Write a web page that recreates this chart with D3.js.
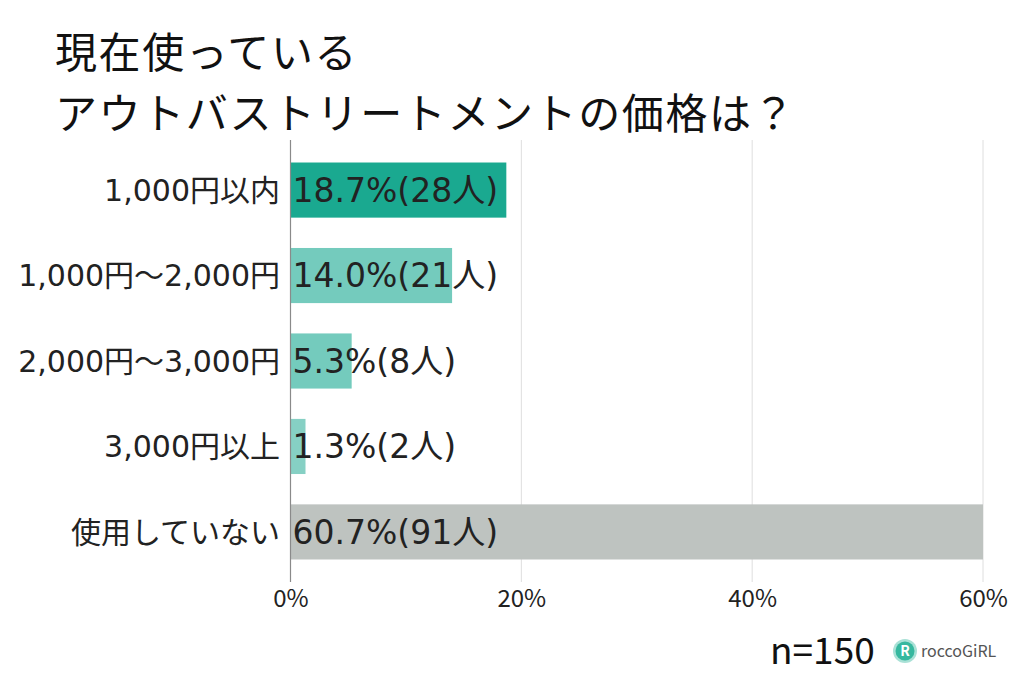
<!DOCTYPE html>
<html><head><meta charset="utf-8">
<script src="https://cdn.jsdelivr.net/npm/d3@7"></script>
<style>body{margin:0;background:#fff;} svg{display:block;}</style>
</head><body>
<svg id="c" width="1024" height="683"></svg>
<script>
const categories = ["1,000円以内","1,000円〜2,000円","2,000円〜3,000円","3,000円以上","使用していない"];
const percents = [18.7, 14.0, 5.3, 1.3, 60.7];
const counts = [28, 21, 8, 2, 91];
const barColors = ["#1aa990","#74cbbd","#74cbbd","#86d0c4","#bec3c0"];
const tickValues = [0, 20, 40, 60];
const titleLines = ["現在使っている","アウトバストリートメントの価格は？"];
const sampleNote = "n=150";

const font = "'Noto Sans CJK JP','Noto Sans',sans-serif";
const wideFont = "'DejaVu Sans','Noto Sans CJK JP',sans-serif";
const svg = d3.select("#c");
const x = d3.scaleLinear().domain([0,60]).range([290.5,983]).clamp(true);
const y = d3.scaleBand().domain(categories).range([142,580]).paddingInner(0.355).paddingOuter(0.24);

// gridlines
svg.append("g").selectAll("line").data(tickValues.slice(1)).join("line")
  .attr("x1",d=>x(d)).attr("x2",d=>x(d)).attr("y1",140).attr("y2",582)
  .attr("stroke","#dedede").attr("stroke-width",1);

// bars
svg.append("g").selectAll("rect").data(categories).join("rect")
  .attr("x",x(0)).attr("y",d=>y(d)).attr("height",y.bandwidth())
  .attr("width",(d,i)=>x(percents[i])-x(0)).attr("fill",(d,i)=>barColors[i]);

// zero axis line
svg.append("line").attr("x1",x(0)).attr("x2",x(0)).attr("y1",140).attr("y2",582)
  .attr("stroke","#8a8a8a").attr("stroke-width",1.2);

// category labels
svg.append("g").selectAll("text").data(categories).join("text")
  .attr("x",280).attr("y",d=>y(d)+y.bandwidth()/2).attr("dy","0.36em")
  .attr("text-anchor","end").attr("font-family",wideFont).attr("font-size",30)
  .attr("fill","#222").text(d=>d);

// value labels
svg.append("g").selectAll("text").data(categories).join("text")
  .attr("x",x(0)+2).attr("y",d=>y(d)+y.bandwidth()/2).attr("dy","0.36em")
  .attr("font-family",wideFont).attr("font-size",33).attr("fill","#222")
  .text((d,i)=>percents[i].toFixed(1)+"%("+counts[i]+"人)");

// x axis tick labels
const xAxis = d3.axisBottom(x).tickValues(tickValues).tickFormat(d=>d+"%").tickSize(0).tickPadding(0);
const ax = svg.append("g").attr("transform","translate(0,590)").call(xAxis);
ax.select(".domain").remove();
ax.selectAll("text").attr("font-family",font).attr("font-size",24).attr("fill","#222").attr("dy","0.71em");

// title
svg.append("g").selectAll("text").data(titleLines).join("text")
  .attr("x",55).attr("y",(d,i)=>68+i*61)
  .attr("font-family",font).attr("font-size",42).attr("letter-spacing",1.6)
  .attr("fill","#111").text(d=>d);

// n note
svg.append("text").attr("x",770).attr("y",664).attr("font-family",font)
  .attr("font-size",37).attr("fill","#111").text(sampleNote);

// logo
const lg = svg.append("g");
lg.append("circle").attr("cx",905).attr("cy",651).attr("r",12).attr("fill","#a9e1d6");
lg.append("circle").attr("cx",905).attr("cy",651).attr("r",9.5).attr("fill","#36b89f");
lg.append("text").attr("x",905).attr("y",656).attr("text-anchor","middle")
  .attr("font-family",font).attr("font-size",14).attr("font-weight","bold").attr("fill","#fff").text("R");
lg.append("text").attr("x",921).attr("y",657).attr("font-family",font)
  .attr("font-size",16).attr("fill","#555").text("roccoGiRL");
</script>
</body></html>
